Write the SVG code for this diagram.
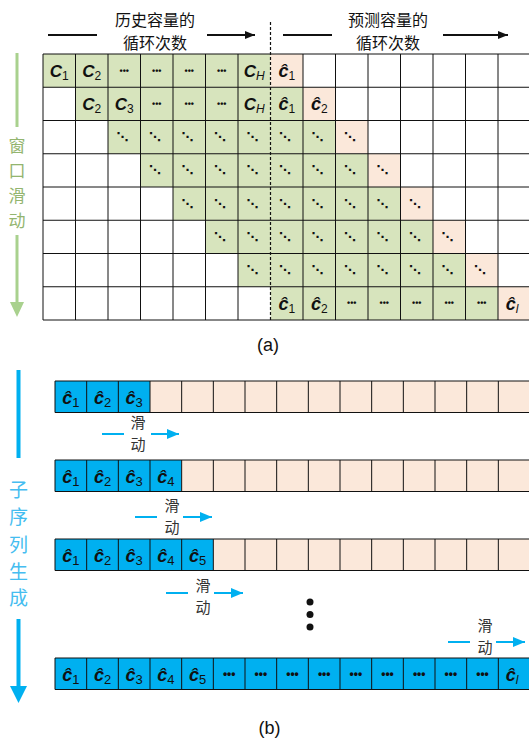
<svg xmlns="http://www.w3.org/2000/svg" width="529" height="742" viewBox="0 0 529 742">
<style>
.cjk{font-family:"Noto Sans CJK SC","Noto Sans",sans-serif;}
.hd{font-size:16px;fill:#111;text-anchor:middle;}
.gv{font-size:17px;fill:#93b56f;text-anchor:middle;}
.bv{font-size:19px;fill:#45bdf0;text-anchor:middle;}
.sl{font-size:15px;fill:#333;text-anchor:middle;}
.lat{font-family:"Liberation Sans",Arial,sans-serif;}
.c{font-size:17px;font-style:italic;font-weight:bold;fill:#111;text-anchor:middle;}
.ch{font-size:18px;font-style:italic;font-weight:bold;fill:#111;text-anchor:middle;}
.cb{font-size:18px;font-style:italic;font-weight:bold;fill:#111;text-anchor:middle;}
.s{font-size:12px;font-style:normal;font-weight:normal;}
.sb{font-size:13px;font-style:normal;font-weight:normal;}
.si{font-size:12px;font-style:italic;font-weight:normal;}
.dt{font-size:9px;fill:#111;text-anchor:middle;font-weight:bold;}
.dtb{font-size:12px;fill:#111;text-anchor:middle;font-weight:bold;}
.dg{font-family:"DejaVu Sans",sans-serif;font-size:12px;fill:#111;text-anchor:middle;font-weight:bold;}
.cap{font-size:18px;fill:#111;text-anchor:middle;}
.green{fill:#d7e4bd;}
.pink{fill:#fbe8da;}
.blue{fill:#00b0f0;}
.gl{stroke:#111;stroke-width:1;fill:none;}
.ba{stroke:#00b0f0;stroke-width:2;fill:none;}
.ka{stroke:#111;stroke-width:2;fill:none;}
</style>
<defs>
<marker id="mk" viewBox="0 0 10 8" refX="10" refY="4" markerWidth="11" markerHeight="8" markerUnits="userSpaceOnUse" orient="auto"><path d="M0,0 L10,4 L0,8 z" fill="#111"/></marker>
<marker id="mb" viewBox="0 0 12 10" refX="12" refY="5" markerWidth="12" markerHeight="10" markerUnits="userSpaceOnUse" orient="auto"><path d="M0,0 L12,5 L0,10 z" fill="#00b0f0"/></marker>
</defs>

<g id="header">
<text class="cjk hd" x="155" y="25.5">历史容量的</text>
<text class="cjk hd" x="155" y="49">循环次数</text>
<text class="cjk hd" x="388" y="25.5">预测容量的</text>
<text class="cjk hd" x="388" y="49">循环次数</text>
</g>

<g id="window-slide-label">
<rect x="15.5" y="53" width="3" height="74" fill="#a9d18e"/>
<text class="cjk gv" x="17" y="152">窗</text>
<text class="cjk gv" x="17" y="177">口</text>
<text class="cjk gv" x="17" y="202">滑</text>
<text class="cjk gv" x="17" y="227">动</text>
</g>

<g id="grid-a">
<rect class="green" x="43" y="54" width="227.5" height="33.25"/><rect class="pink" x="270.5" y="54" width="32.5" height="33.25"/>
<rect class="green" x="75.5" y="87.25" width="227.5" height="33.25"/><rect class="pink" x="303" y="87.25" width="32.5" height="33.25"/>
<rect class="green" x="108" y="120.5" width="227.5" height="33.25"/><rect class="pink" x="335.5" y="120.5" width="32.5" height="33.25"/>
<rect class="green" x="140.5" y="153.75" width="227.5" height="33.25"/><rect class="pink" x="368" y="153.75" width="32.5" height="33.25"/>
<rect class="green" x="173" y="187" width="227.5" height="33.25"/><rect class="pink" x="400.5" y="187" width="32.5" height="33.25"/>
<rect class="green" x="205.5" y="220.25" width="227.5" height="33.25"/><rect class="pink" x="433" y="220.25" width="32.5" height="33.25"/>
<rect class="green" x="238" y="253.5" width="227.5" height="33.25"/><rect class="pink" x="465.5" y="253.5" width="32.5" height="33.25"/>
<rect class="green" x="270.5" y="286.75" width="227.5" height="33.25"/><rect class="pink" x="498" y="286.75" width="32.5" height="33.25"/>
<path class="gl" d="M43,54V320M75.5,54V320M108,54V320M140.5,54V320M173,54V320M205.5,54V320M238,54V320M303,54V320M335.5,54V320M368,54V320M400.5,54V320M433,54V320M465.5,54V320M498,54V320M43,54H529M43,87.25H529M43,120.5H529M43,153.75H529M43,187H529M43,220.25H529M43,253.5H529M43,286.75H529M43,320H529"/>
<!-- row 0 -->
<text class="lat c" x="59.25" y="77">C<tspan class="s" dy="3">1</tspan></text>
<text class="lat c" x="91.75" y="77">C<tspan class="s" dy="3">2</tspan></text>
<text class="lat dt" x="124.25" y="73.6">•••</text>
<text class="lat dt" x="156.75" y="73.6">•••</text>
<text class="lat dt" x="189.25" y="73.6">•••</text>
<text class="lat dt" x="221.75" y="73.6">•••</text>
<text class="lat c" x="254.25" y="77">C<tspan class="si" dy="3">H</tspan></text>
<text class="lat ch" x="286.75" y="77">ĉ<tspan class="s" dy="3">1</tspan></text>
<!-- row 1 -->
<text class="lat c" x="91.75" y="110.3">C<tspan class="s" dy="3">2</tspan></text>
<text class="lat c" x="124.25" y="110.3">C<tspan class="s" dy="3">3</tspan></text>
<text class="lat dt" x="156.75" y="106.9">•••</text>
<text class="lat dt" x="189.25" y="106.9">•••</text>
<text class="lat dt" x="221.75" y="106.9">•••</text>
<text class="lat c" x="254.25" y="110.3">C<tspan class="si" dy="3">H</tspan></text>
<text class="lat ch" x="286.75" y="110.3">ĉ<tspan class="s" dy="3">1</tspan></text>
<text class="lat ch" x="319.25" y="110.3">ĉ<tspan class="s" dy="3">2</tspan></text>
<!-- rows 2-6 diagonal dots -->
<g class="dg">
<text x="122.5" y="141">⋱</text><text x="155" y="141">⋱</text><text x="187.5" y="141">⋱</text><text x="220" y="141">⋱</text><text x="252.5" y="141">⋱</text><text x="285" y="141">⋱</text><text x="317.5" y="141">⋱</text><text x="350" y="141">⋱</text>
<text x="155" y="174.2">⋱</text><text x="187.5" y="174.2">⋱</text><text x="220" y="174.2">⋱</text><text x="252.5" y="174.2">⋱</text><text x="285" y="174.2">⋱</text><text x="317.5" y="174.2">⋱</text><text x="350" y="174.2">⋱</text><text x="382.5" y="174.2">⋱</text>
<text x="187.5" y="207.5">⋱</text><text x="220" y="207.5">⋱</text><text x="252.5" y="207.5">⋱</text><text x="285" y="207.5">⋱</text><text x="317.5" y="207.5">⋱</text><text x="350" y="207.5">⋱</text><text x="382.5" y="207.5">⋱</text><text x="415" y="207.5">⋱</text>
<text x="220" y="240.7">⋱</text><text x="252.5" y="240.7">⋱</text><text x="285" y="240.7">⋱</text><text x="317.5" y="240.7">⋱</text><text x="350" y="240.7">⋱</text><text x="382.5" y="240.7">⋱</text><text x="415" y="240.7">⋱</text><text x="447.5" y="240.7">⋱</text>
<text x="252.5" y="274">⋱</text><text x="285" y="274">⋱</text><text x="317.5" y="274">⋱</text><text x="350" y="274">⋱</text><text x="382.5" y="274">⋱</text><text x="415" y="274">⋱</text><text x="447.5" y="274">⋱</text><text x="480" y="274">⋱</text>
</g>
<!-- row 7 -->
<text class="lat ch" x="286.75" y="309.8">ĉ<tspan class="s" dy="3">1</tspan></text>
<text class="lat ch" x="319.25" y="309.8">ĉ<tspan class="s" dy="3">2</tspan></text>
<text class="lat dt" x="351.75" y="306.4">•••</text>
<text class="lat dt" x="384.25" y="306.4">•••</text>
<text class="lat dt" x="416.75" y="306.4">•••</text>
<text class="lat dt" x="449.25" y="306.4">•••</text>
<text class="lat dt" x="481.75" y="306.4">•••</text>
<text class="lat ch" x="512" y="309.8">ĉ<tspan class="si" dy="3">l</tspan></text>
<line x1="270.5" y1="22" x2="270.5" y2="320" stroke="#111" stroke-width="1.2" stroke-dasharray="3 2"/>
</g>

<text class="lat cap" x="268" y="351">(a)</text>

<g id="subseq-label">
<rect x="16.5" y="370" width="4" height="88" fill="#00b0f0"/>
<text class="cjk bv" x="18.5" y="497">子</text>
<text class="cjk bv" x="18.5" y="524">序</text>
<text class="cjk bv" x="18.5" y="552">列</text>
<text class="cjk bv" x="18.5" y="579">生</text>
<text class="cjk bv" x="18.5" y="605">成</text>
</g>

<g id="row-b1">
<rect class="blue" x="55" y="381" width="95" height="31.5"/>
<rect class="pink" x="150" y="381" width="380" height="31.5"/>
<path class="gl" d="M55,381H530M55,412.5H530M55,381V412.5M86.67,381V412.5M118.33,381V412.5M150,381V412.5M181.67,381V412.5M213.33,381V412.5M245,381V412.5M276.67,381V412.5M308.33,381V412.5M340,381V412.5M371.67,381V412.5M403.33,381V412.5M435,381V412.5M466.67,381V412.5M498.33,381V412.5"/>
<text class="lat cb" x="70.8" y="403.5">ĉ<tspan class="sb" dy="3">1</tspan></text>
<text class="lat cb" x="102.5" y="403.5">ĉ<tspan class="sb" dy="3">2</tspan></text>
<text class="lat cb" x="134.2" y="403.5">ĉ<tspan class="sb" dy="3">3</tspan></text>
</g>

<g id="row-b2">
<rect class="blue" x="55" y="460" width="126.67" height="31.5"/>
<rect class="pink" x="181.67" y="460" width="348.33" height="31.5"/>
<path class="gl" d="M55,460H530M55,491.5H530M55,460V491.5M86.67,460V491.5M118.33,460V491.5M150,460V491.5M181.67,460V491.5M213.33,460V491.5M245,460V491.5M276.67,460V491.5M308.33,460V491.5M340,460V491.5M371.67,460V491.5M403.33,460V491.5M435,460V491.5M466.67,460V491.5M498.33,460V491.5"/>
<text class="lat cb" x="70.8" y="482.5">ĉ<tspan class="sb" dy="3">1</tspan></text>
<text class="lat cb" x="102.5" y="482.5">ĉ<tspan class="sb" dy="3">2</tspan></text>
<text class="lat cb" x="134.2" y="482.5">ĉ<tspan class="sb" dy="3">3</tspan></text>
<text class="lat cb" x="165.8" y="482.5">ĉ<tspan class="sb" dy="3">4</tspan></text>
</g>

<g id="row-b3">
<rect class="blue" x="55" y="539" width="158.33" height="31.5"/>
<rect class="pink" x="213.33" y="539" width="316.67" height="31.5"/>
<path class="gl" d="M55,539H530M55,570.5H530M55,539V570.5M86.67,539V570.5M118.33,539V570.5M150,539V570.5M181.67,539V570.5M213.33,539V570.5M245,539V570.5M276.67,539V570.5M308.33,539V570.5M340,539V570.5M371.67,539V570.5M403.33,539V570.5M435,539V570.5M466.67,539V570.5M498.33,539V570.5"/>
<text class="lat cb" x="70.8" y="561.5">ĉ<tspan class="sb" dy="3">1</tspan></text>
<text class="lat cb" x="102.5" y="561.5">ĉ<tspan class="sb" dy="3">2</tspan></text>
<text class="lat cb" x="134.2" y="561.5">ĉ<tspan class="sb" dy="3">3</tspan></text>
<text class="lat cb" x="165.8" y="561.5">ĉ<tspan class="sb" dy="3">4</tspan></text>
<text class="lat cb" x="197.5" y="561.5">ĉ<tspan class="sb" dy="3">5</tspan></text>
</g>

<g id="ellipsis">
<circle cx="310" cy="602" r="3.5" fill="#111"/>
<circle cx="310" cy="614.5" r="3.5" fill="#111"/>
<circle cx="310" cy="627" r="3.5" fill="#111"/>
</g>

<g id="row-b4">
<rect class="blue" x="55" y="658" width="475" height="31.5"/>
<path class="gl" d="M55,658H530M55,689.5H530M55,658V689.5M86.67,658V689.5M118.33,658V689.5M150,658V689.5M181.67,658V689.5M213.33,658V689.5M245,658V689.5M276.67,658V689.5M308.33,658V689.5M340,658V689.5M371.67,658V689.5M403.33,658V689.5M435,658V689.5M466.67,658V689.5M498.33,658V689.5"/>
<text class="lat cb" x="70.8" y="680.5">ĉ<tspan class="sb" dy="3">1</tspan></text>
<text class="lat cb" x="102.5" y="680.5">ĉ<tspan class="sb" dy="3">2</tspan></text>
<text class="lat cb" x="134.2" y="680.5">ĉ<tspan class="sb" dy="3">3</tspan></text>
<text class="lat cb" x="165.8" y="680.5">ĉ<tspan class="sb" dy="3">4</tspan></text>
<text class="lat cb" x="197.5" y="680.5">ĉ<tspan class="sb" dy="3">5</tspan></text>
<g class="lat dtb">
<text x="229.2" y="677.5">•••</text><text x="260.8" y="677.5">•••</text><text x="292.5" y="677.5">•••</text><text x="324.2" y="677.5">•••</text><text x="355.8" y="677.5">•••</text><text x="387.5" y="677.5">•••</text><text x="419.2" y="677.5">•••</text><text x="450.8" y="677.5">•••</text><text x="482.5" y="677.5">•••</text>
</g>
<text class="lat cb" x="512" y="680.5">ĉ<tspan class="si" dy="3">l</tspan></text>
</g>

<g id="slide-labels">
<text class="cjk sl" x="138" y="427.5">滑</text><text class="cjk sl" x="138" y="449.5">动</text>
<text class="cjk sl" x="172" y="510.5">滑</text><text class="cjk sl" x="172" y="532.5">动</text>
<text class="cjk sl" x="203" y="590.5">滑</text><text class="cjk sl" x="203" y="612.5">动</text>
<text class="cjk sl" x="485" y="630.5">滑</text><text class="cjk sl" x="485" y="652.5">动</text>
</g>

<g id="connectors">
<line class="ka" x1="48" y1="35" x2="97" y2="35"/>
<line class="ka" x1="207" y1="35" x2="255" y2="35" marker-end="url(#mk)"/>
<line class="ka" x1="283" y1="35" x2="332" y2="35"/>
<line class="ka" x1="443" y1="35" x2="508" y2="35" marker-end="url(#mk)"/>
<line x1="17" y1="235" x2="17" y2="304" stroke="#a9d18e" stroke-width="3"/>
<polygon points="10,302 24,302 17,317" fill="#a9d18e"/>
<line x1="18.5" y1="619" x2="18.5" y2="688" stroke="#00b0f0" stroke-width="4"/>
<polygon points="10,686 27,686 18.5,703" fill="#00b0f0"/>
<line class="ba" x1="102" y1="434" x2="124" y2="434"/>
<line class="ba" x1="151" y1="434" x2="179" y2="434" marker-end="url(#mb)"/>
<line class="ba" x1="135" y1="517" x2="157" y2="517"/>
<line class="ba" x1="183" y1="517" x2="212" y2="517" marker-end="url(#mb)"/>
<line class="ba" x1="166" y1="593" x2="188" y2="593"/>
<line class="ba" x1="214" y1="593" x2="243" y2="593" marker-end="url(#mb)"/>
<line class="ba" x1="448" y1="642" x2="470" y2="642"/>
<line class="ba" x1="496" y1="642" x2="525" y2="642" marker-end="url(#mb)"/>
</g>

<text class="lat cap" x="269.5" y="734">(b)</text>
</svg>
